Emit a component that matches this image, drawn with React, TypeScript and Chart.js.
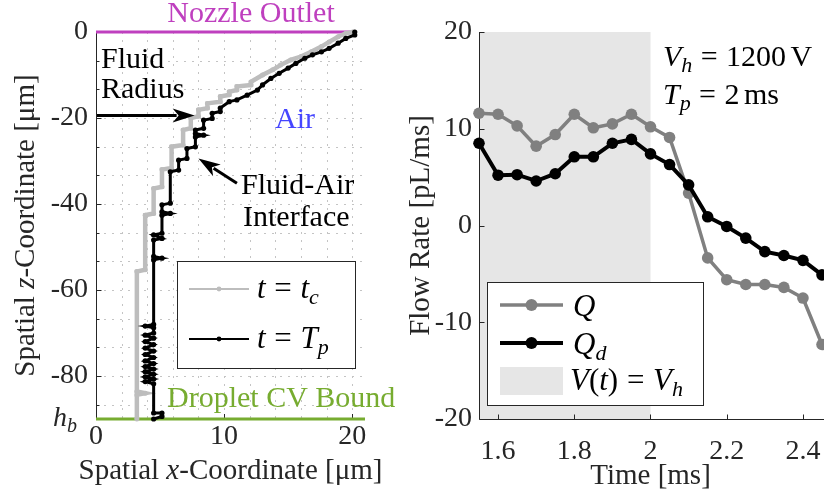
import React, { useEffect, useRef } from 'react';
import { Chart, registerables } from 'chart.js';

Chart.register(...registerables);

const SERIF = '"Liberation Serif", "Times New Roman", Times, serif';
const AXIS = '#262626';
const NOZZLE = '#bf40bf';
const GREEN = '#77ac30';
const AIR = '#4646ff';
const LIGHT = '#bdbdbd';
const MID = '#808080';
const SHADE = '#e6e6e6';

// ---------- Left panel: fluid radius profiles (x, z in µm) ----------
const tcX = [20.05, 19.5, 18.9, 18.2, 17.6, 16.8, 16.0, 15.2, 14.4, 13.8, 13.0, 12.1, 12.1, 11.0, 11.0, 10.4, 10.4, 9.7, 9.7, 8.7, 8.7, 8.0, 8.0, 7.4, 7.4, 6.8, 6.8, 5.9, 5.9, 5.15, 5.15, 4.5, 4.5, 3.84, 3.84, 3.19, 3.19, 3.84, 3.19, 3.19];
const tcZ = [0, -0.3, -1.1, -2.3, -3.4, -4.6, -5.7, -6.5, -7.7, -8.8, -10.0, -11.6, -12.3, -12.7, -13.5, -13.9, -14.6, -15.0, -16.2, -16.6, -17.7, -18.1, -19.6, -20.0, -22.4, -22.8, -26.3, -26.7, -31.6, -32.0, -36.0, -36.4, -42.2, -42.6, -55.3, -55.7, -83.6, -84.0, -84.4, -90];
const tpX = [20.2, 20.2, 19.5, 18.9, 18.2, 17.6, 16.9, 16.3, 15.6, 15.0, 14.3, 13.65, 13.0, 12.6, 11.8, 11.0, 10.4, 9.7, 9.7, 9.07, 9.07, 8.4, 8.4, 7.76, 7.76, 8.4, 7.76, 7.76, 7.1, 7.1, 6.45, 6.45, 5.8, 5.8, 5.15, 5.15, 5.8, 5.15, 5.15, 4.5, 5.15, 4.5, 4.5, 5.15, 4.5, 4.5, 3.84, 4.5, 4.5, 3.84, 4.5, 3.84, 4.5, 3.84, 4.5, 3.84, 4.5, 3.84, 4.5, 3.84, 4.5, 3.84, 4.5, 3.84, 4.5, 3.84, 4.5, 4.5, 5.15, 5.15, 4.5];
const tpZ = [0, -0.7, -1.5, -2.6, -3.8, -4.6, -5.3, -6.1, -7.3, -8.4, -9.6, -10.8, -12.3, -13.5, -14.7, -15.8, -16.2, -17.7, -18.5, -18.9, -20.1, -20.5, -22.4, -22.8, -23.6, -24.0, -24.4, -26.7, -27.1, -29.4, -29.8, -32.1, -32.5, -39.8, -40.2, -41.8, -42.2, -42.6, -46.8, -47.2, -48.0, -48.4, -52.2, -52.6, -53.0, -68.0, -68.4, -68.8, -70.0, -70.5, -71.2, -72.0, -72.7, -73.5, -74.2, -75.0, -75.7, -76.5, -77.1, -77.8, -78.4, -79.0, -79.6, -80.2, -80.7, -81.3, -81.8, -88.6, -88.6, -89.4, -90];
const hB = -90;
const nozzleRadius = 20.2;
const xMaxLeft = 21;
const xTickValues = [0, 10, 20];
const xTickLabels = ['0', '10', '20'];
const zTickValues = [0, -20, -40, -60, -80];
const zTickLabels = ['0', '-20', '-40', '-60', '-80'];
const radiusArrowZ = -19.4;
const interfaceArrowTail = [11.0, -35.2];
const interfaceArrowTip = [8.0, -29.4];

// ---------- Right panel: flow rates ----------
const timeMs = [1.55, 1.6, 1.65, 1.7, 1.75, 1.8, 1.85, 1.9, 1.95, 2.0, 2.05, 2.1, 2.15, 2.2, 2.25, 2.3, 2.35, 2.4, 2.45];
const flowQ = [11.6, 11.5, 10.3, 8.2, 9.4, 11.5, 10.1, 10.5, 11.5, 10.2, 9.1, 3.35, -3.35, -5.6, -6.1, -6.1, -6.4, -7.5, -12.3];
const flowQd = [8.5, 5.2, 5.25, 4.6, 5.35, 7.1, 7.1, 8.5, 8.9, 7.4, 6.3, 4.2, 0.9, -0.1, -1.3, -2.7, -3.1, -3.6, -5.1];
const holdStart = 1.55;
const holdEnd = 2.0;
const tTickValues = [1.6, 1.8, 2.0, 2.2, 2.4];
const tTickLabels = ['1.6', '1.8', '2', '2.2', '2.4'];
const qTickValues = [-20, -10, 0, 10, 20];
const qTickLabels = ['-20', '-10', '0', '10', '20'];

type Seg = { t?: string; it?: boolean; sub?: boolean; gap?: number };

function segFont(s: Seg, size: number) {
  return `${s.it ? 'italic ' : ''}${s.sub ? Math.round(size * 0.72) : size}px ${SERIF}`;
}
function richWidth(ctx: CanvasRenderingContext2D, segs: Seg[], size: number) {
  let w = 0;
  for (const s of segs) {
    if (s.gap) { w += s.gap * size; continue; }
    ctx.font = segFont(s, size);
    w += ctx.measureText(s.t || '').width;
  }
  return w;
}
function drawRich(ctx: CanvasRenderingContext2D, segs: Seg[], x: number, y: number, size: number, color: string, align: 'left' | 'center' | 'right' = 'left') {
  const w = richWidth(ctx, segs, size);
  let cx = align === 'center' ? x - w / 2 : align === 'right' ? x - w : x;
  ctx.fillStyle = color;
  ctx.textAlign = 'left';
  ctx.textBaseline = 'alphabetic';
  for (const s of segs) {
    if (s.gap) { cx += s.gap * size; continue; }
    ctx.font = segFont(s, size);
    ctx.fillText(s.t || '', cx, s.sub ? y + size * 0.2 : y);
    cx += ctx.measureText(s.t || '').width;
  }
}
function drawRichRotated(ctx: CanvasRenderingContext2D, segs: Seg[], bx: number, cy: number, size: number, color: string) {
  ctx.save();
  ctx.translate(bx, cy);
  ctx.rotate(-Math.PI / 2);
  drawRich(ctx, segs, 0, 0, size, color, 'center');
  ctx.restore();
}
function line(ctx: CanvasRenderingContext2D, x1: number, y1: number, x2: number, y2: number) {
  ctx.beginPath();
  ctx.moveTo(x1, y1);
  ctx.lineTo(x2, y2);
  ctx.stroke();
}
function arrow(ctx: CanvasRenderingContext2D, x1: number, y1: number, x2: number, y2: number) {
  const ang = Math.atan2(y2 - y1, x2 - x1);
  const L = 22, W = 7;
  const bx = x2 - L * Math.cos(ang), by = y2 - L * Math.sin(ang);
  ctx.strokeStyle = '#000';
  ctx.fillStyle = '#000';
  ctx.lineWidth = 3;
  line(ctx, x1, y1, bx + 4 * Math.cos(ang), by + 4 * Math.sin(ang));
  ctx.beginPath();
  ctx.moveTo(x2, y2);
  ctx.lineTo(bx - W * Math.sin(ang), by + W * Math.cos(ang));
  ctx.lineTo(bx + 6 * Math.cos(ang), by + 6 * Math.sin(ang));
  ctx.lineTo(bx + W * Math.sin(ang), by - W * Math.cos(ang));
  ctx.closePath();
  ctx.fill();
}

const TICK = 28;
const TITLE = 29;
const NOTE = 30;
const MATH = 31;

const leftDecor = {
  id: 'leftDecor',
  beforeDatasetsDraw(chart: any) {
    const { ctx, chartArea: a } = chart;
    const xs = chart.scales.x, ys = chart.scales.y;
    ctx.save();
    ctx.lineWidth = 1;
    ctx.strokeStyle = '#c4c4c4';
    ctx.setLineDash([2, 6]);
    for (let v = 2; v <= 20.001; v += 2) {
      const px = Math.round(xs.getPixelForValue(v)) + 0.5;
      line(ctx, px, a.top, px, a.bottom);
    }
    for (let k = 1; k <= 13; k++) {
      const py = Math.round(ys.getPixelForValue(-k * 20 / 3)) + 0.5;
      line(ctx, a.left, py, a.right, py);
    }
    ctx.setLineDash([]);
    ctx.strokeStyle = AXIS;
    const ax = Math.round(a.left) + 0.5;
    line(ctx, ax, a.top, ax, a.bottom);
    for (const v of zTickValues) {
      const py = Math.round(ys.getPixelForValue(v)) + 0.5;
      line(ctx, ax, py, ax + 5, py);
    }
    for (let k = 1; k <= 13; k++) {
      const py = Math.round(ys.getPixelForValue(-k * 20 / 3)) + 0.5;
      line(ctx, ax, py, ax + 3, py);
    }
    for (const v of xTickValues) {
      if (v === 0) continue;
      const px = Math.round(xs.getPixelForValue(v)) + 0.5;
      line(ctx, px, a.bottom, px, a.bottom - 5);
    }
    ctx.lineWidth = 3;
    ctx.strokeStyle = NOZZLE;
    line(ctx, xs.getPixelForValue(0), ys.getPixelForValue(0), xs.getPixelForValue(nozzleRadius), ys.getPixelForValue(0));
    ctx.strokeStyle = GREEN;
    line(ctx, xs.getPixelForValue(0), ys.getPixelForValue(hB), xs.getPixelForValue(xMaxLeft), ys.getPixelForValue(hB));
    ctx.restore();
  },
  afterDatasetsDraw(chart: any) {
    const { ctx, chartArea: a } = chart;
    const xs = chart.scales.x, ys = chart.scales.y;
    ctx.save();
    drawRich(ctx, [{ t: 'Nozzle Outlet' }], 251, 22, NOTE, NOZZLE, 'center');
    drawRich(ctx, [{ t: 'Fluid' }], 101, 68, NOTE, '#000');
    drawRich(ctx, [{ t: 'Radius' }], 101, 98, NOTE, '#000');
    drawRich(ctx, [{ t: 'Air' }], 275, 128, NOTE, AIR);
    drawRich(ctx, [{ t: 'Fluid-Air' }], 241, 194, NOTE, '#000');
    drawRich(ctx, [{ t: 'Interface' }], 243, 226, NOTE, '#000');
    drawRich(ctx, [{ t: 'Droplet CV Bound' }], 167, 407, NOTE, GREEN);
    arrow(ctx, xs.getPixelForValue(0) + 1, ys.getPixelForValue(radiusArrowZ), xs.getPixelForValue(7.7), ys.getPixelForValue(radiusArrowZ));
    arrow(ctx, xs.getPixelForValue(interfaceArrowTail[0]), ys.getPixelForValue(interfaceArrowTail[1]), xs.getPixelForValue(interfaceArrowTip[0]), ys.getPixelForValue(interfaceArrowTip[1]));
    drawRich(ctx, [{ t: 'h', it: true }, { t: 'b', it: true, sub: true }], 53, ys.getPixelForValue(hB) + 7, TICK, AXIS, 'left');
    drawRichRotated(ctx, [{ t: 'Spatial ' }, { t: 'z', it: true }, { t: '-Coordinate [μm]' }], 34, (a.top + a.bottom) / 2, TITLE, AXIS);
    drawRich(ctx, [{ t: 'Spatial ' }, { t: 'x', it: true }, { t: '-Coordinate [μm]' }], (a.left + a.right) / 2, 479, TITLE, AXIS, 'center');
    ctx.fillStyle = '#fff';
    ctx.fillRect(177, 261, 178, 107);
    ctx.strokeStyle = AXIS;
    ctx.lineWidth = 1;
    ctx.strokeRect(177.5, 261.5, 178, 107);
    const items = [
      { c: LIGHT, y: 289, r: 2.4, segs: [{ t: 't', it: true }, { gap: 0.28 }, { t: '=' }, { gap: 0.28 }, { t: 't', it: true }, { t: 'c', it: true, sub: true }] },
      { c: '#000', y: 339, r: 2.4, segs: [{ t: 't', it: true }, { gap: 0.28 }, { t: '=' }, { gap: 0.28 }, { t: 'T', it: true }, { t: 'p', it: true, sub: true }] },
    ];
    for (const it of items) {
      ctx.strokeStyle = it.c;
      ctx.lineWidth = 1.8;
      line(ctx, 189, it.y, 249, it.y);
      ctx.fillStyle = it.c;
      ctx.beginPath();
      ctx.arc(219, it.y, it.r, 0, Math.PI * 2);
      ctx.fill();
      drawRich(ctx, it.segs as Seg[], 257, it.y + 9, MATH, '#000');
    }
    ctx.restore();
  },
};

const rightDecor = {
  id: 'rightDecor',
  beforeDatasetsDraw(chart: any) {
    const { ctx, chartArea: a } = chart;
    const xs = chart.scales.x, ys = chart.scales.y;
    ctx.save();
    const x0 = xs.getPixelForValue(holdStart), x1 = xs.getPixelForValue(holdEnd);
    ctx.fillStyle = SHADE;
    ctx.fillRect(x0, a.top, x1 - x0, a.bottom - a.top);
    ctx.strokeStyle = AXIS;
    ctx.lineWidth = 1;
    const ax = Math.round(a.left) + 0.5;
    const ay = Math.round(a.bottom) + 0.5;
    line(ctx, ax, a.top, ax, ay);
    line(ctx, ax, ay, chart.width, ay);
    for (const v of qTickValues) {
      const py = Math.round(ys.getPixelForValue(v)) + 0.5;
      line(ctx, ax, py, ax + 5, py);
    }
    for (const v of tTickValues) {
      const px = Math.round(xs.getPixelForValue(v)) + 0.5;
      line(ctx, px, ay, px, ay - 5);
    }
    ctx.restore();
  },
  afterDatasetsDraw(chart: any) {
    const { ctx, chartArea: a } = chart;
    ctx.save();
    drawRich(ctx, [{ t: 'V', it: true }, { t: 'h', it: true, sub: true }, { gap: 0.28 }, { t: '=' }, { gap: 0.28 }, { t: '1200' }, { gap: 0.15 }, { t: 'V' }], 263, 66, NOTE, '#000');
    drawRich(ctx, [{ t: 'T', it: true }, { t: 'p', it: true, sub: true }, { gap: 0.28 }, { t: '=' }, { gap: 0.28 }, { t: '2' }, { gap: 0.15 }, { t: 'ms' }], 263, 104, NOTE, '#000');
    drawRichRotated(ctx, [{ t: 'Flow Rate [pL/ms]' }], 29, (a.top + a.bottom) / 2, TITLE, AXIS);
    drawRich(ctx, [{ t: 'Time [ms]' }], (a.left + a.right) / 2, 484, TITLE, AXIS, 'center');
    const L = 87, T = 282, W = 216, H = 123;
    ctx.fillStyle = '#fff';
    ctx.fillRect(L, T, W, H);
    ctx.strokeStyle = AXIS;
    ctx.lineWidth = 1;
    ctx.strokeRect(L + 0.5, T + 0.5, W, H);
    const rows = [
      { c: MID, w: 3.5, y: 305, segs: [{ t: 'Q', it: true }] },
      { c: '#000', w: 4, y: 343, segs: [{ t: 'Q', it: true }, { t: 'd', it: true, sub: true }] },
    ];
    for (const r of rows) {
      ctx.strokeStyle = r.c;
      ctx.lineWidth = r.w;
      line(ctx, 100, r.y, 163, r.y);
      ctx.fillStyle = r.c;
      ctx.beginPath();
      ctx.arc(131.5, r.y, 6, 0, Math.PI * 2);
      ctx.fill();
      drawRich(ctx, r.segs as Seg[], 173, r.y + 11, MATH, '#000');
    }
    ctx.fillStyle = SHADE;
    ctx.fillRect(100, 367, 63, 28);
    drawRich(ctx, [{ t: 'V', it: true }, { t: '(' }, { t: 't', it: true }, { t: ')' }, { gap: 0.28 }, { t: '=' }, { gap: 0.28 }, { t: 'V', it: true }, { t: 'h', it: true, sub: true }], 170, 390, MATH, '#000');
    ctx.restore();
  },
};

function makeLeft(canvas: HTMLCanvasElement) {
  return new Chart(canvas, {
    type: 'scatter',
    data: {
      datasets: [
        {
          label: 't = t_c',
          data: tcX.map((x, i) => ({ x, y: tcZ[i] })),
          showLine: true,
          borderColor: LIGHT,
          backgroundColor: LIGHT,
          borderWidth: 4.5,
          pointRadius: 2.5,
          pointBorderWidth: 0,
          pointBackgroundColor: LIGHT,
          clip: false as any,
          order: 2,
        },
        {
          label: 't = T_p',
          data: tpX.map((x, i) => ({ x, y: tpZ[i] })),
          showLine: true,
          borderColor: '#000',
          backgroundColor: '#000',
          borderWidth: 3,
          pointRadius: 2.6,
          pointBorderWidth: 0,
          pointBackgroundColor: '#000',
          clip: false as any,
          order: 1,
        },
      ],
    },
    options: {
      responsive: false,
      animation: false,
      events: [],
      layout: { autoPadding: false, padding: { top: 32, right: 75, left: 0, bottom: 0 } },
      plugins: { legend: { display: false }, tooltip: { enabled: false } },
      scales: {
        x: {
          type: 'linear',
          min: 0,
          max: xMaxLeft,
          grid: { display: false, drawTicks: false },
          border: { display: false },
          afterBuildTicks: (s: any) => { s.ticks = xTickValues.map((v) => ({ value: v })); },
          afterFit: (s: any) => { s.height = 77; },
          ticks: {
            autoSkip: false, maxRotation: 0, minRotation: 0, padding: 1, color: AXIS,
            font: { family: SERIF, size: TICK },
            callback: (v: any) => xTickLabels[xTickValues.indexOf(Number(v))] ?? '',
          },
        },
        y: {
          type: 'linear',
          min: hB,
          max: 0,
          grid: { display: false, drawTicks: false },
          border: { display: false },
          afterBuildTicks: (s: any) => { s.ticks = zTickValues.map((v) => ({ value: v })); },
          afterFit: (s: any) => { s.width = 96; },
          ticks: {
            autoSkip: false, padding: 8, color: AXIS,
            font: { family: SERIF, size: TICK },
            callback: (v: any) => zTickLabels[zTickValues.indexOf(Number(v))] ?? '',
          },
        },
      },
    } as any,
    plugins: [leftDecor],
  });
}

function makeRight(canvas: HTMLCanvasElement) {
  return new Chart(canvas, {
    type: 'line',
    data: {
      datasets: [
        {
          label: 'Q',
          data: timeMs.map((t, i) => ({ x: t, y: flowQ[i] })),
          borderColor: MID,
          backgroundColor: MID,
          pointBackgroundColor: MID,
          pointBorderWidth: 0,
          borderWidth: 3.5,
          pointRadius: 5.8,
          clip: false as any,
          order: 2,
        },
        {
          label: 'Q_d',
          data: timeMs.map((t, i) => ({ x: t, y: flowQd[i] })),
          borderColor: '#000',
          backgroundColor: '#000',
          pointBackgroundColor: '#000',
          pointBorderWidth: 0,
          borderWidth: 4,
          pointRadius: 5.8,
          clip: false as any,
          order: 1,
        },
      ],
    },
    options: {
      responsive: false,
      animation: false,
      events: [],
      layout: { autoPadding: false, padding: { top: 32, right: 2, left: 0, bottom: 0 } },
      plugins: { legend: { display: false }, tooltip: { enabled: false } },
      scales: {
        x: {
          type: 'linear',
          min: 1.55,
          max: 2.45,
          grid: { display: false, drawTicks: false },
          border: { display: false },
          afterBuildTicks: (s: any) => { s.ticks = tTickValues.map((v) => ({ value: v })); },
          afterFit: (s: any) => { s.height = 77; },
          ticks: {
            autoSkip: false, maxRotation: 0, minRotation: 0, padding: 1, color: AXIS,
            font: { family: SERIF, size: TICK, lineHeight: '63px' },
            callback: (v: any) => tTickLabels[tTickValues.findIndex((t) => Math.abs(t - Number(v)) < 1e-6)] ?? '',
          },
        },
        y: {
          type: 'linear',
          min: -20,
          max: 20,
          grid: { display: false, drawTicks: false },
          border: { display: false },
          afterBuildTicks: (s: any) => { s.ticks = qTickValues.map((v) => ({ value: v })); },
          afterFit: (s: any) => { s.width = 79; },
          ticks: {
            autoSkip: false, padding: 7, color: AXIS,
            font: { family: SERIF, size: TICK },
            callback: (v: any) => qTickLabels[qTickValues.indexOf(Number(v))] ?? '',
          },
        },
      },
    } as any,
    plugins: [rightDecor],
  });
}

export default function App() {
  const leftRef = useRef<HTMLCanvasElement>(null);
  const rightRef = useRef<HTMLCanvasElement>(null);
  useEffect(() => {
    const lc = makeLeft(leftRef.current!);
    const rc = makeRight(rightRef.current!);
    return () => {
      lc.destroy();
      rc.destroy();
    };
  }, []);
  return (
    <div style={{ position: 'fixed', left: 0, top: 0, width: 824, height: 496, background: '#fff', overflow: 'hidden' }}>
      <canvas ref={leftRef} width={440} height={496} style={{ position: 'absolute', left: 0, top: 0, width: 440, height: 496 }} />
      <canvas ref={rightRef} width={424} height={496} style={{ position: 'absolute', left: 400, top: 0, width: 424, height: 496 }} />
    </div>
  );
}
